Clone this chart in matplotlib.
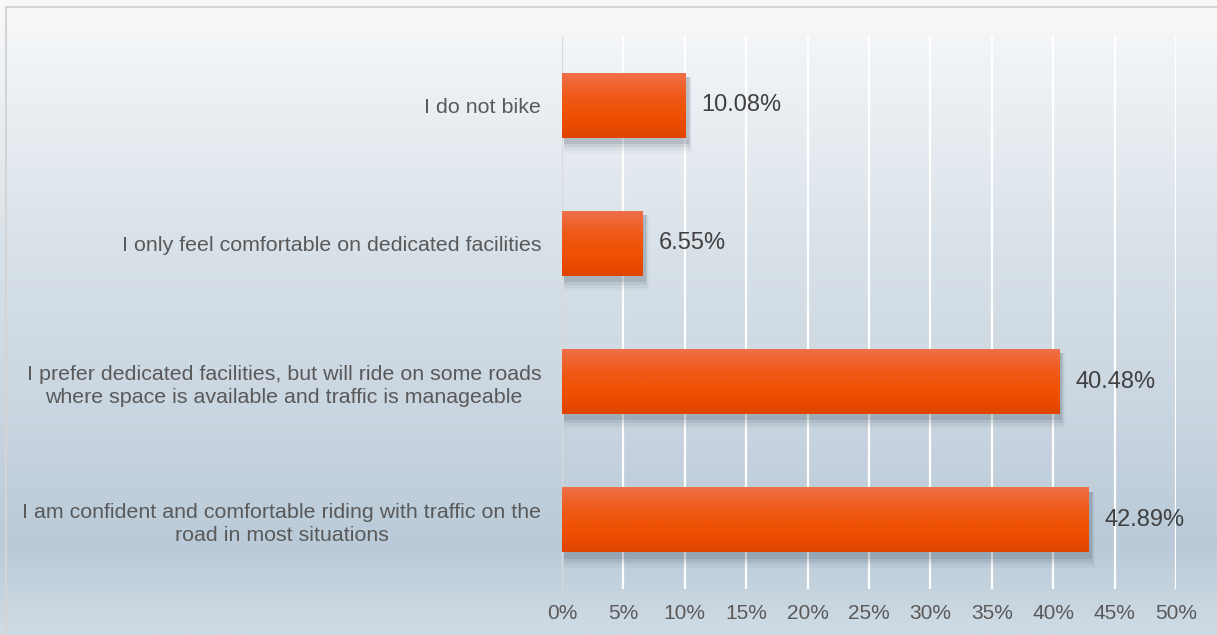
import numpy as np
import matplotlib
matplotlib.use("Agg")
from matplotlib import pyplot as plt
from matplotlib.patches import Rectangle
from matplotlib.colors import LinearSegmentedColormap

categories = [
    "I do not bike",
    "I only feel comfortable on dedicated facilities",
    "I prefer dedicated facilities, but will ride on some roads\nwhere space is available and traffic is manageable",
    "I am confident and comfortable riding with traffic on the\nroad in most situations",
]
shares = [10.08, 6.55, 40.48, 42.89]
x_ticks = [0, 5, 10, 15, 20, 25, 30, 35, 40, 45, 50]
x_tick_labels = [f"{t}%" for t in x_ticks]

plt.rcParams['font.family'] = ['Liberation Sans', 'DejaVu Sans']
text_col = '#595959'

fig = plt.figure(figsize=(12.17, 6.35), dpi=100)

# background gradient (top light, darker near bottom, slightly lighter at the very bottom)
bg = fig.add_axes([0, 0, 1, 1], zorder=0)
bg.set_axis_off()
rows = np.linspace(0, 1, 400)
stops = [0.0, 0.15, 0.4, 0.7, 0.86, 1.0]
cols = np.array([[248, 249, 250], [236, 240, 244], [216, 225, 232],
                 [198, 211, 222], [186, 202, 216], [208, 220, 228]]) / 255
grad = np.stack([np.interp(rows, stops, cols[:, k]) for k in range(3)], axis=1)
bg.imshow(grad[:, None, :], aspect='auto', extent=[0, 1, 0, 1],
          transform=bg.transAxes)
bg.set_xlim(0, 1)
bg.set_ylim(0, 1)
bg.add_patch(Rectangle((6 / 1217, -0.1), 1.2, 1 - 7 / 635 + 0.1, transform=fig.transFigure,
                       fill=False, ec='#d4d4d4', lw=1.5))

ax = fig.add_axes([562 / 1217, 1 - 589 / 635, (1176 - 562) / 1217, (589 - 36) / 635], zorder=1)
ax.patch.set_alpha(0)

y = np.arange(len(categories))
bars = ax.barh(y, shares, height=0.47, color='#ef5200', zorder=3)

bar_cmap = LinearSegmentedColormap.from_list(
    'bar', ['#f07048', '#ef5a1a', '#ef5000', '#e04400'])
for b in bars:
    x0, y0, w, h = b.get_x(), b.get_y(), b.get_width(), b.get_height()
    # soft shadow below/right
    for i, a in enumerate([0.12, 0.08, 0.05, 0.03]):
        ax.add_patch(Rectangle((x0 + 0.15, y0 + 0.03), w + 0.12 + 0.08 * i, h + 0.015 + 0.022 * i,
                               color='#2a3a4a', alpha=a, lw=0, zorder=2))
    im = ax.imshow(np.linspace(0, 1, 100)[:, None], cmap=bar_cmap, aspect='auto',
                   extent=[x0, x0 + w, y0 + h, y0], zorder=4, interpolation='bilinear')
    im.set_clip_path(b)
    ax.text(x0 + w + 1.3, y0 + h / 2, f"{w:.2f}%", va='center', ha='left',
            fontsize=17, color='#404040', zorder=5)
ax.set_xlim(0, 50)
ax.set_ylim(len(categories) - 0.5, -0.5)

ax.set_xticks(x_ticks)
ax.set_xticklabels(x_tick_labels, fontsize=15, color=text_col)
ax.set_yticks(y)
ax.set_yticklabels(categories, fontsize=15.4, color=text_col, ha='right',
                   multialignment='center', linespacing=1.3)
ax.tick_params(axis='x', length=0, pad=11)
ax.tick_params(axis='y', length=0, pad=15)
for s in ax.spines.values():
    s.set_visible(False)

for t in x_ticks[1:]:
    ax.axvline(t, color='white', lw=1.6, zorder=1)
ax.axvline(0, color='#d9d9d9', lw=1.6, zorder=1)

fig.savefig('out.png', dpi=100)
